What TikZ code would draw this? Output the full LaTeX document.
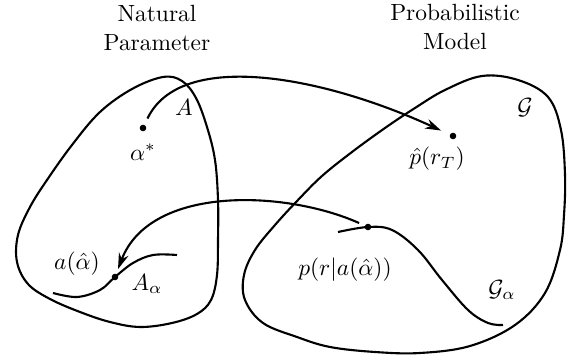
\documentclass[tikz,border=0pt]{standalone}
\usepackage{amsmath, amssymb}
\usepackage{tikz}
\usetikzlibrary{arrows.meta, positioning}

\begin{document}
\begin{tikzpicture}[
          x=0.015cm, y=-0.015cm,
          region/.style={line width=0.9pt},
          dot/.style={circle, fill=black, inner sep=0pt, minimum size=2.8pt},
          label/.style={inner sep=1pt},
          arrow/.style={-{Stealth[length=2.4mm, width=1.5mm]}, line width=0.9pt},
          title/.style={align=center}
        ]
        \useasboundingbox (0,0) rectangle (570,358);
        \node[title] (natural) at (157,28) {Natural\\Parameter};
        \node[title] (probmodel) at (455,27) {Probabilistic\\Model};
        \draw[region] plot[smooth cycle, tension=0.6] coordinates {
          (163,77) (182,81) (196,98) (207,127) (215,160) (218,200) (218,240)
          (217,275) (211,300) (197,314) (172,323) (140,327) (110,322) (80,312)
          (50,299) (28,284) (17,262) (18,235) (30,207) (47,180) (72,145)
          (100,112) (132,89)};
        \draw[region] plot[smooth cycle, tension=0.6] coordinates {
          (482,76) (518,80) (548,97) (561,130) (565,175) (564,215) (560,250)
          (545,293) (515,325) (470,346) (420,353) (375,352) (330,347) (297,337)
          (263,323) (245,300) (244,275) (255,250) (275,225) (298,200) (322,176)
          (352,152) (385,128) (415,108) (445,90)};
        \draw[region] plot[smooth, tension=0.6] coordinates {
          (53,293) (77,297) (100,290) (115,277) (133,263) (153,255) (177,255)};
        \draw[region] plot[smooth, tension=0.6] coordinates {
          (338,232) (368,227) (392,230) (418,250) (442,280) (468,310) (488,323) (503,325)};
        \node[dot] (astar) at (143,128) {};
        \node[dot] (phat) at (453,136) {};
        \node[dot] (aalpha) at (115,277) {};
        \node[dot] (galpha) at (368,227) {};
        \node[label] (lastar) at (143,152) {$\alpha^*$};
        \node[label] (lA) at (184,108) {$A$};
        \node[label] (lphat) at (437,159) {$\hat p(r_T)$};
        \node[label] (lG) at (525,108) {$\mathcal{G}$};
        \node[label] (laahat) at (77,264) {$a(\hat\alpha)$};
        \node[label] (lAa) at (147,284) {$A_\alpha$};
        \node[label] (lp) at (345,270) {$p(r|a(\hat\alpha))$};
        \node[label] (lGa) at (502,290) {$\mathcal{G}_\alpha$};
        \draw[arrow, shorten <=0.1cm, shorten >=0.14cm] (astar) .. controls (180,50) and (320,75) .. (phat);
        \draw[arrow, shorten <=0.09cm, shorten >=0.07cm] (galpha) .. controls (285,190) and (150,185) .. (aalpha);
      \end{tikzpicture}
\end{document}
